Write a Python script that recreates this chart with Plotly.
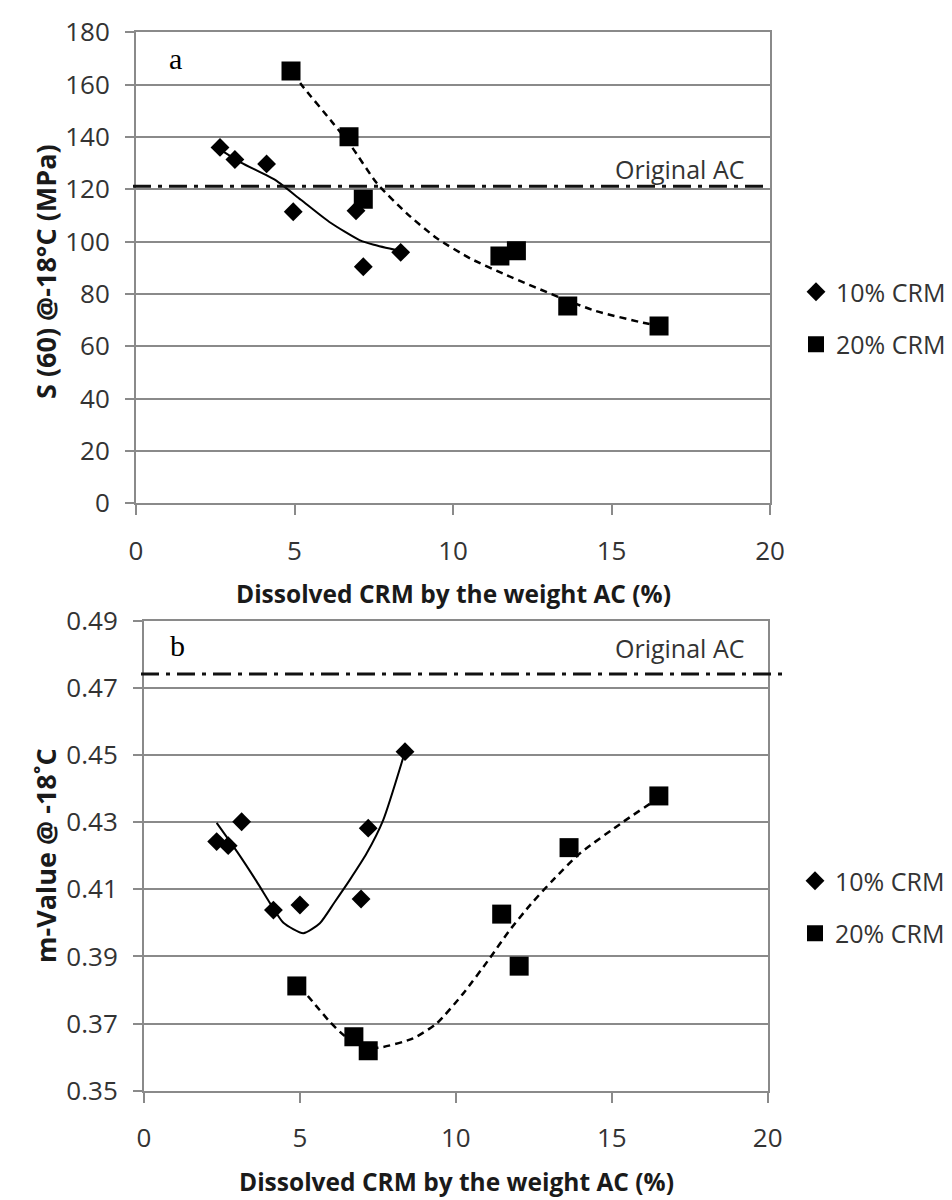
import plotly.graph_objects as go

# ---------------- data ----------------
# Panel a: S(60) @ -18 C (MPa)
a_crm10_x = [2.65, 3.12, 4.12, 4.96, 6.94, 7.17, 8.35]
a_crm10_y = [136.0, 131.4, 129.7, 111.4, 111.8, 90.4, 95.9]
a_crm20_x = [4.89, 6.72, 7.17, 11.48, 12.0, 13.62, 16.5]
a_crm20_y = [165.2, 140.1, 116.2, 94.5, 96.5, 75.4, 67.8]
a_trend10_x = [2.45, 3.3, 4.4, 5.2, 6.1, 7.05, 7.5, 8.3]
a_trend10_y = [136.8, 130.3, 123.5, 116.0, 107.5, 100.6, 98.8, 96.5]
a_trend20_x = [4.95, 5.23, 6.22, 6.8, 7.6, 8.54, 9.49, 10.54, 11.69, 13.4, 14.5, 16.0, 16.5]
a_trend20_y = [164.5, 159.8, 145.2, 136.3, 122.3, 110.8, 101.3, 93.6, 87.2, 78.5, 73.5, 69.0, 67.8]
a_original_ac = 121.2

# Panel b: m-Value @ -18 C
b_crm10_x = [2.33, 2.70, 3.13, 4.15, 5.0, 6.96, 7.19, 8.37]
b_crm10_y = [0.4242, 0.4230, 0.4301, 0.4038, 0.4053, 0.4071, 0.4282, 0.4510]
b_crm20_x = [4.9, 6.73, 7.19, 11.47, 12.03, 13.63, 16.51]
b_crm20_y = [0.3812, 0.3661, 0.3619, 0.4026, 0.3871, 0.4224, 0.4378]
b_trend10_x = [2.33, 3.0, 3.6, 4.1, 4.47, 5.11, 5.64, 6.1, 6.6, 7.14, 7.67, 8.37]
b_trend10_y = [0.4298, 0.4210, 0.4125, 0.4050, 0.4000, 0.3969, 0.3999, 0.4060, 0.4128, 0.4207, 0.4306, 0.4510]
b_trend20_x = [5.0, 5.5, 5.96, 6.4, 6.9, 7.5, 8.63, 9.38, 10.24, 11.09, 11.7, 12.4, 13.12, 13.98, 15.37, 16.33, 16.5]
b_trend20_y = [0.3810, 0.3755, 0.3705, 0.3666, 0.3640, 0.3628, 0.3656, 0.3700, 0.3790, 0.3895, 0.3975, 0.4055, 0.4128, 0.4207, 0.4301, 0.4361, 0.4370]
b_original_ac = 0.4741

x_ticks = [0, 5, 10, 15, 20]
a_y_ticks = [0, 20, 40, 60, 80, 100, 120, 140, 160, 180]
b_y_ticks = [0.35, 0.37, 0.39, 0.41, 0.43, 0.45, 0.47, 0.49]

series_names = ["10% CRM", "20% CRM"]

# ---------------- style ----------------
W, H = 952, 1200
FONT = "Open Sans"
GRID = "#8a8a8a"
TXT = "#333333"
TITLE = "#1a1a1a"

fig = go.Figure()

def add_panel(xa, ya, legend, x10, y10, x20, y20, tx10, ty10, tx20, ty20):
    fig.add_trace(go.Scatter(x=tx10, y=ty10, mode="lines", xaxis=xa, yaxis=ya,
                             line=dict(color="black", width=2, shape="spline", smoothing=0.6),
                             showlegend=False, hoverinfo="skip"))
    fig.add_trace(go.Scatter(x=tx20, y=ty20, mode="lines", xaxis=xa, yaxis=ya,
                             line=dict(color="black", width=2.5, dash="7px,5px", shape="spline", smoothing=0.6),
                             showlegend=False, hoverinfo="skip"))
    fig.add_trace(go.Scatter(x=x10, y=y10, mode="markers", xaxis=xa, yaxis=ya,
                             name=series_names[0], legend=legend, legendgroup=legend + "a",
                             marker=dict(symbol="diamond", size=14.5, color="black")))
    fig.add_trace(go.Scatter(x=x20, y=y20, mode="markers", xaxis=xa, yaxis=ya,
                             name=series_names[1], legend=legend, legendgroup=legend + "b",
                             marker=dict(symbol="square", size=19, color="black")))

add_panel("x", "y", "legend", a_crm10_x, a_crm10_y, a_crm20_x, a_crm20_y,
          a_trend10_x, a_trend10_y, a_trend20_x, a_trend20_y)
add_panel("x2", "y2", "legend2", b_crm10_x, b_crm10_y, b_crm20_x, b_crm20_y,
          b_trend10_x, b_trend10_y, b_trend20_x, b_trend20_y)

def px_x(p):
    return p / W

def px_y(p):
    return 1 - p / H

axis_common = dict(
    showgrid=False, zeroline=False, showline=True, mirror=True, automargin=False,
    linecolor=GRID, linewidth=2, ticks="outside", tickcolor=GRID,
    tickwidth=2, tickfont=dict(family=FONT, size=26, color=TXT),
)

xcommon = dict(axis_common, range=[0, 20], tickvals=x_ticks, ticklen=10,
               ticklabelstandoff=13)
ycommon = dict(axis_common, showgrid=True, gridcolor=GRID, gridwidth=2,
               ticklen=9, ticklabelstandoff=10)

fig.update_layout(
    width=W, height=H,
    margin=dict(l=0, r=0, t=0, b=0, pad=0, autoexpand=False),
    paper_bgcolor="white", plot_bgcolor="white",
    font=dict(family=FONT, color=TXT),
    xaxis=dict(xcommon, domain=[px_x(136), px_x(770)], anchor="y"),
    yaxis=dict(ycommon, domain=[px_y(503.3), px_y(32.3)], anchor="x",
               range=[0, 180], tickvals=a_y_ticks),
    xaxis2=dict(xcommon, domain=[px_x(144), px_x(767.7)], anchor="y2"),
    yaxis2=dict(ycommon, domain=[px_y(1090.7), px_y(620.7)], anchor="x2",
                range=[0.35, 0.49], tickvals=b_y_ticks, tickformat=".2f"),
    legend=dict(x=px_x(796), y=px_y(269), xanchor="left", yanchor="top",
                font=dict(family=FONT, size=25, color=TXT), tracegroupgap=17,
                bgcolor="rgba(0,0,0,0)"),
    legend2=dict(x=px_x(795), y=px_y(858), xanchor="left", yanchor="top",
                 font=dict(family=FONT, size=25, color=TXT), tracegroupgap=17,
                 bgcolor="rgba(0,0,0,0)"),
    showlegend=True,
)

# Original AC reference lines (dash-dot)
fig.add_shape(type="line", xref="paper", yref="y", x0=px_x(133), x1=px_x(767),
              y0=a_original_ac, y1=a_original_ac,
              line=dict(color="#111111", width=3, dash="18px,7px,4px,7px"))
fig.add_shape(type="line", xref="paper", yref="y2", x0=px_x(141), x1=px_x(782),
              y0=b_original_ac, y1=b_original_ac,
              line=dict(color="#111111", width=3, dash="18px,7px,4px,7px"))

ann = []
ann.append(dict(text="Original AC", xref="x", yref="y", x=19.25, y=127.6,
                xanchor="right", yanchor="middle", showarrow=False,
                font=dict(family=FONT, size=25, color=TXT)))
ann.append(dict(text="Original AC", xref="x2", yref="y2", x=19.32, y=0.4819,
                xanchor="right", yanchor="middle", showarrow=False,
                font=dict(family=FONT, size=25, color=TXT)))
ann.append(dict(text="a", xref="paper", yref="paper", x=px_x(175), y=px_y(58),
                xanchor="center", yanchor="middle", showarrow=False,
                font=dict(family="Liberation Serif", size=30, color="black")))
ann.append(dict(text="b", xref="paper", yref="paper", x=px_x(177), y=px_y(645),
                xanchor="center", yanchor="middle", showarrow=False,
                font=dict(family="Liberation Serif", size=30, color="black")))
# axis titles
ann.append(dict(text="<b>Dissolved CRM by the weight AC (%)</b>", xref="paper", yref="paper",
                x=px_x(453), y=px_y(593), xanchor="center", yanchor="middle", showarrow=False,
                font=dict(family=FONT, size=24.5, color=TITLE)))
ann.append(dict(text="<b>Dissolved CRM by the weight AC (%)</b>", xref="paper", yref="paper",
                x=px_x(456), y=px_y(1181), xanchor="center", yanchor="middle", showarrow=False,
                font=dict(family=FONT, size=24.5, color=TITLE)))
ann.append(dict(text="<b>S (60) @-18°C (MPa)</b>", xref="paper", yref="paper",
                x=px_x(45), y=px_y(272), xanchor="center", yanchor="middle", showarrow=False,
                textangle=-90, font=dict(family=FONT, size=27, color=TITLE)))
ann.append(dict(text="<b>m-Value @ -18˚C</b>", xref="paper", yref="paper",
                x=px_x(45), y=px_y(856), xanchor="center", yanchor="middle", showarrow=False,
                textangle=-90, font=dict(family=FONT, size=27, color=TITLE)))
fig.update_layout(annotations=ann)

fig.write_html("out.html")
